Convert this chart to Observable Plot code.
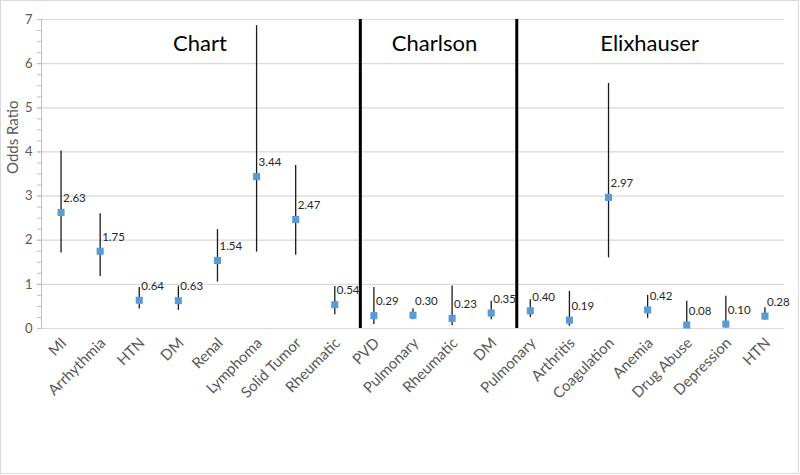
<!DOCTYPE html>
<html><head><meta charset="utf-8">
<script src="https://cdn.jsdelivr.net/npm/d3@7"></script>
<script src="https://cdn.jsdelivr.net/npm/@observablehq/plot@0.6"></script>
<style>
body{margin:0;background:#fff;}
#wrap{position:relative;width:800px;height:475px;overflow:hidden;font-family:Lato,"Open Sans",sans-serif;}
#wrap svg{position:absolute;left:0;top:0;}
#border{position:absolute;left:0;top:0;width:797px;height:472px;border:1px solid #d9d9d9;pointer-events:none;}
</style></head><body><div id="wrap"><div id="border"></div></div>
<script>
const categories = ["MI","Arrhythmia","HTN","DM","Renal","Lymphoma","Solid Tumor","Rheumatic",
  "PVD","Pulmonary","Rheumatic","DM",
  "Pulmonary","Arthritis","Coagulation","Anemia","Drug Abuse","Depression","HTN"];
const groups = ["Chart","Charlson","Elixhauser"];
const groupSizes = [8,4,7];
const oddsRatio = [2.63,1.75,0.64,0.63,1.54,3.44,2.47,0.54, 0.29,0.30,0.23,0.35, 0.40,0.19,2.97,0.42,0.08,0.10,0.28];
const ciLow  = [1.71,1.18,0.44,0.41,1.05,1.73,1.66,0.31, 0.09,0.20,0.06,0.20, 0.25,0.05,1.60,0.23,0.00,0.01,0.19];
const ciHigh = [4.02,2.60,0.93,0.96,2.24,6.86,3.69,0.95, 0.93,0.44,0.96,0.62, 0.65,0.84,5.55,0.75,0.62,0.73,0.47];
const yTicks = [0,1,2,3,4,5,6,7];
const yMinorTicks = d3.range(0, 7.001, 0.25);

const rows = categories.map((name, i) => ({i, name, or: oddsRatio[i], lo: ciLow[i], hi: ciHigh[i]}));
let acc = 0;
const groupRows = groups.map((g, k) => {
  const start = acc; acc += groupSizes[k];
  return {name: g, mid: (start + acc - 1) / 2, end: acc - 0.5};
});
const boundaries = groupRows.slice(0, -1).map(d => d.end);

const chart = Plot.plot({
  width: 800, height: 475,
  marginLeft: 41, marginRight: 16, marginTop: 19, marginBottom: 147,
  style: {fontFamily: "Lato, 'Open Sans', sans-serif", background: "transparent"},
  x: {type: "linear", domain: [-0.5, 18.5], axis: null},
  y: {domain: [0, 7], axis: null},
  marks: [
    Plot.gridY(yTicks, {stroke: "#d9d9d9", strokeOpacity: 1, strokeWidth: 1.2}),
    Plot.axisY(yMinorTicks, {tickSize: 4, tickFormat: () => "", stroke: "#bfbfbf"}),
    Plot.axisY(yTicks, {tickSize: 4, tickPadding: 5, fontSize: 13, fill: "#595959", stroke: "#bfbfbf", label: null}),
    Plot.ruleX([-0.5], {stroke: "#bfbfbf"}),
    Plot.axisX(d3.range(categories.length), {tickFormat: i => categories[i], tickRotate: -45, tickSize: 0, tickPadding: 12, dx: 3, fontSize: 15, fill: "#595959", label: null}),
    Plot.ruleX(boundaries, {y1: 0, y2: 7, stroke: "#000", strokeWidth: 3, dx: 6}),
    Plot.ruleX(rows, {x: "i", y1: "lo", y2: "hi", stroke: "#1a1a1a", strokeWidth: 1.3}),
    Plot.dot(rows, {x: "i", y: "or", symbol: "square", r: 4, fill: "#5B9BD5", stroke: "none"}),
    Plot.text(rows, {x: "i", y: "or", text: d => d.or.toFixed(2), textAnchor: "start", dx: 2, dy: -14, fontSize: 11.5, fill: "#262626"}),
    Plot.text(groupRows, {x: "mid", y: 6.45, text: "name", fontSize: 22, fill: "#000", dx: 2}),
    Plot.text(["Odds Ratio"], {frameAnchor: "left", text: d => d, rotate: -90, dx: -28, fontSize: 15, fill: "#595959"})
  ]
});
document.getElementById("wrap").prepend(chart);
</script></body></html>
